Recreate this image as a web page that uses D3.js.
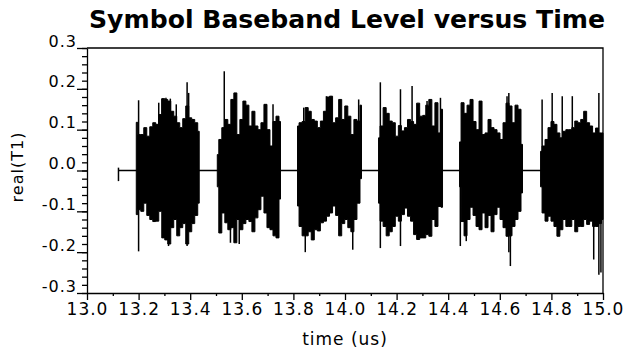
<!DOCTYPE html>
<html>
<head>
<meta charset="utf-8">
<script src="https://cdn.jsdelivr.net/npm/d3@7"></script>
<style>
  body { margin: 0; background: #fff; }
  svg text { font-family: "DejaVu Sans", sans-serif; fill: #000; }
</style>
</head>
<body>
<svg id="chart" width="626" height="354"></svg>
<script>
var timeDomain = [13.0, 15.0];
var levelDomain = [-0.3, 0.3];
var xTicks = [13.0, 13.2, 13.4, 13.6, 13.8, 14.0, 14.2, 14.4, 14.6, 14.8, 15.0];
var xMinorTicks = [13.1, 13.3, 13.5, 13.7, 13.9, 14.1, 14.3, 14.5, 14.7, 14.9];
var yTicks = [-0.3, -0.2, -0.1, 0.0, 0.1, 0.2, 0.3];

// trace begins here, with a small step
var traceStart = 13.122;
var startMark = [0.007, -0.026];

// each burst: [start, end] in us
var burstSpans = [
  [13.191, 13.435],
  [13.505, 13.750],
  [13.816, 14.064],
  [14.130, 14.378],
  [14.444, 14.688],
  [14.758, 15.000]
];

// upper and lower envelope of every burst, evenly spaced across its span
var burstUpper = [
  [0.118, 0.088, 0.088, 0.105, 0.084, 0.107, 0.117, 0.113, 0.137, 0.176, 0.174, 0.17, 0.145, 0.133, 0.117, 0.105, 0.127, 0.158, 0.129, 0.125, 0.117, 0.096],
  [0.039, 0.076, 0.105, 0.125, 0.113, 0.174, 0.19, 0.088, 0.125, 0.17, 0.16, 0.109, 0.145, 0.109, 0.1, 0.117, 0.162, 0.1, 0.06, 0.12, 0.133, 0.12],
  [0.109, 0.117, 0.12, 0.154, 0.145, 0.125, 0.121, 0.105, 0.121, 0.145, 0.18, 0.182, 0.117, 0.129, 0.174, 0.125, 0.158, 0.133, 0.088, 0.125, 0.121, 0.16],
  [0.08, 0.109, 0.154, 0.14, 0.121, 0.117, 0.084, 0.11, 0.097, 0.105, 0.125, 0.12, 0.113, 0.165, 0.133, 0.135, 0.16, 0.174, 0.109, 0.166, 0.092, 0.15],
  [0.07, 0.166, 0.14, 0.16, 0.174, 0.12, 0.1, 0.17, 0.088, 0.092, 0.125, 0.105, 0.1, 0.092, 0.076, 0.117, 0.165, 0.158, 0.117, 0.16, 0.15, 0.064],
  [0.047, 0.06, 0.076, 0.105, 0.12, 0.113, 0.092, 0.08, 0.096, 0.1, 0.1, 0.105, 0.121, 0.117, 0.125, 0.145, 0.117, 0.109, 0.092, 0.104, 0.092, 0.092]
];
var burstLower = [
  [-0.108, -0.096, -0.1, -0.08, -0.11, -0.12, -0.125, -0.124, -0.1, -0.165, -0.17, -0.18, -0.14, -0.12, -0.16, -0.14, -0.13, -0.18, -0.15, -0.13, -0.11, -0.08],
  [-0.04, -0.153, -0.104, -0.128, -0.145, -0.14, -0.177, -0.12, -0.145, -0.13, -0.12, -0.125, -0.15, -0.116, -0.096, -0.063, -0.104, -0.14, -0.145, -0.16, -0.165, -0.07],
  [-0.087, -0.137, -0.16, -0.16, -0.15, -0.17, -0.145, -0.148, -0.128, -0.124, -0.112, -0.104, -0.087, -0.11, -0.16, -0.13, -0.12, -0.14, -0.15, -0.12, -0.08, -0.02],
  [-0.08, -0.124, -0.137, -0.16, -0.15, -0.137, -0.112, -0.124, -0.108, -0.092, -0.112, -0.124, -0.157, -0.169, -0.165, -0.165, -0.157, -0.161, -0.12, -0.137, -0.088, -0.09],
  [-0.04, -0.125, -0.16, -0.12, -0.09, -0.11, -0.137, -0.145, -0.104, -0.14, -0.11, -0.15, -0.108, -0.09, -0.12, -0.14, -0.161, -0.16, -0.137, -0.12, -0.1, -0.055],
  [-0.04, -0.104, -0.124, -0.112, -0.124, -0.137, -0.161, -0.145, -0.12, -0.137, -0.137, -0.12, -0.15, -0.137, -0.137, -0.12, -0.132, -0.124, -0.137, -0.137, -0.13, -0.12]
];

// thin peaks sticking out of the bursts: [time, level]
var spikes = [
  [13.200, 0.172], [13.200, -0.198], [13.278, 0.166], [13.291, 0.176], [13.306, 0.178], [13.316, -0.185],
  [13.323, 0.176], [13.346, 0.162], [13.388, 0.216], [13.388, -0.185], [13.394, 0.19],
  [13.532, 0.243], [13.556, -0.177], [13.59, -0.18], [13.721, 0.162],
  [13.840, 0.154], [13.846, -0.2], [13.928, 0.182], [13.946, 0.182], [14.030, -0.194], [14.053, 0.174],
  [14.137, 0.216], [14.137, -0.19], [14.215, 0.199], [14.215, -0.185], [14.260, 0.207], [14.318, 0.17], [14.370, 0.178],
  [14.447, -0.185], [14.470, -0.173], [14.525, 0.17], [14.628, 0.182], [14.635, 0.19], [14.635, -0.2], [14.641, -0.234],
  [14.764, 0.174], [14.803, 0.19], [14.842, 0.182], [14.881, 0.182], [14.964, -0.218], [14.984, 0.19], [14.984, -0.255], [14.992, -0.25]
];

var svg = d3.select("#chart");

var x = d3.scaleLinear().domain(timeDomain).range([87, 603]);
var y = d3.scaleLinear().domain(levelDomain).range([293, 48]);
var fmt = function (d) { return d.toFixed(1); };

svg.append("text")
  .attr("x", 89)
  .attr("y", 28)
  .attr("textLength", 516)
  .attr("lengthAdjust", "spacingAndGlyphs")
  .style("font-size", "25px")
  .style("font-weight", "bold")
  .text("Symbol Baseband Level versus Time");

// frame: top and right
svg.append("path")
  .attr("d", ["M", x(13.0), y(0.3), "H", x(15.0), "V", y(-0.3)].join(" "))
  .attr("fill", "none")
  .attr("stroke", "#000")
  .attr("stroke-width", 1.3);

// y axis
var yMinor = svg.append("g")
  .attr("transform", "translate(" + x(13.0) + ",0)")
  .call(d3.axisLeft(y).tickValues(d3.range(-0.3, 0.3001, 0.02)).tickSize(5).tickSizeOuter(0).tickFormat(""));
yMinor.select(".domain").remove();

var yAxis = svg.append("g")
  .attr("transform", "translate(" + x(13.0) + ",0)")
  .call(d3.axisLeft(y).tickValues(yTicks).tickSize(10).tickSizeOuter(0).tickPadding(0).tickFormat(fmt));
yAxis.selectAll("text")
  .attr("dy", "-0.12em")
  .style("font-size", "16px")
  .style("letter-spacing", "1px");

// x axis
svg.append("g")
  .attr("transform", "translate(0," + y(-0.3) + ")")
  .call(d3.axisBottom(x).tickValues(xMinorTicks).tickSize(3).tickSizeOuter(0).tickFormat(""))
  .select(".domain").remove();

var xAxis = svg.append("g")
  .attr("transform", "translate(0," + y(-0.3) + ")")
  .call(d3.axisBottom(x).tickValues(xTicks).tickSize(7).tickSizeOuter(0).tickPadding(3).tickFormat(fmt));
xAxis.selectAll("text")
  .style("font-size", "17px")
  .style("letter-spacing", "1px");

svg.selectAll(".tick line, .domain").attr("stroke", "#000").attr("stroke-width", 1.3);

svg.append("text")
  .attr("transform", "translate(23," + 167 + ") rotate(-90)")
  .attr("text-anchor", "middle")
  .style("font-size", "16px")
  .style("letter-spacing", "1px")
  .text("real(T1)");

svg.append("text")
  .attr("x", 345)
  .attr("y", 345)
  .attr("text-anchor", "middle")
  .style("font-size", "17px")
  .style("letter-spacing", "1px")
  .text("time (us)");

// trace
var trace = svg.append("g");

trace.append("path")
  .attr("d", ["M", x(traceStart), y(0), "H", x(15.0)].join(" "))
  .attr("stroke", "#000")
  .attr("stroke-width", 1.5);

trace.append("path")
  .attr("d", ["M", x(traceStart), y(startMark[0]), "V", y(startMark[1])].join(" "))
  .attr("stroke", "#000")
  .attr("stroke-width", 1.5);

burstSpans.forEach(function (span, b) {
  var upper = burstUpper[b];
  var lower = burstLower[b];
  var idx = d3.scaleLinear().domain([0, upper.length - 1]).range(span);
  var area = d3.area()
    .x(function (d, i) { return x(idx(i)); })
    .y0(function (d, i) { return y(lower[i]); })
    .y1(function (d) { return y(d); })
    .curve(d3.curveStep);
  trace.append("path")
    .attr("d", area(upper))
    .attr("fill", "#000")
    .attr("stroke", "#000")
    .attr("stroke-width", 1);
});

trace.selectAll(".spike")
  .data(spikes)
  .enter().append("line")
  .attr("class", "spike")
  .attr("x1", function (d) { return x(d[0]); })
  .attr("x2", function (d) { return x(d[0]); })
  .attr("y1", y(0))
  .attr("y2", function (d) { return y(d[1]); })
  .attr("stroke", "#000")
  .attr("stroke-width", 1.5);
</script>
</body>
</html>
